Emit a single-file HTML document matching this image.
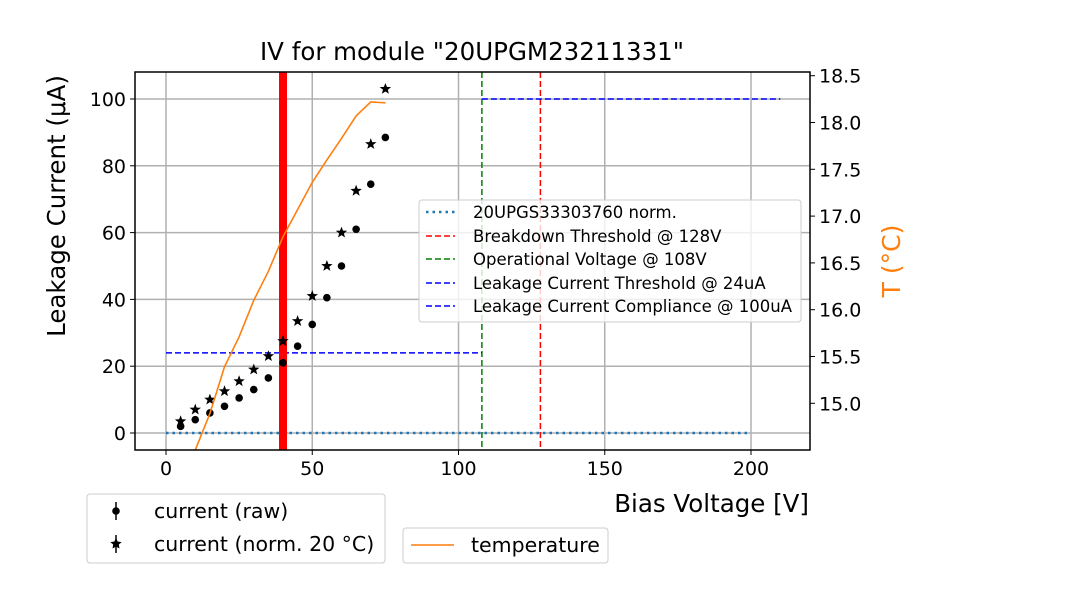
<!DOCTYPE html>
<html><head><meta charset="utf-8"><style>
body{margin:0;background:#fff}
svg text{font-family:"DejaVu Sans","Liberation Sans",sans-serif}
</style></head><body>
<svg id="chart" width="1080" height="600" viewBox="0 0 1080 600">
<rect width="1080" height="600" fill="#fff"/>
<g id="grid"></g>
<g id="plot"></g>
<g id="axes"></g>
</svg>
<script>
const volts = [5,10,15,20,25,30,35,40,45,50,55,60,65,70,75];
const rawCurrent = [2,4,6,8,10.5,13,16.5,21,26,32.5,40.5,50,61,74.5,88.5];
const normCurrent = [3.5,7,10,12.5,15.5,19,23,27.5,33.5,41,50,60,72.5,86.5,103];
const tempVolts = [5,10,15,20,25,30,35,40,45,50,55,60,65,70,75];
const temps = [14.1,14.5,14.89,15.39,15.71,16.1,16.41,16.78,17.07,17.36,17.6,17.83,18.07,18.22,18.21];
const xTicks = [0,50,100,150,200];
const yTicks = [0,20,40,60,80,100];
const tTicks = [15.0,15.5,16.0,16.5,17.0,17.5,18.0,18.5];
const breakdownV = 128, operationalV = 108, leakThr = 24, compliance = 100, markerV = 40;

const L=135,R=810,T=72,B=450;
const xs=v=>166+(v-0)*(751-166)/200;
const ys=c=>433-(c)*(433-99)/100;
const ts=t=>403.3-(t-15)*93.6;
const NS="http://www.w3.org/2000/svg";
function mk(tag,attrs,parent){const e=document.createElementNS(NS,tag);for(const k in attrs)e.setAttribute(k,attrs[k]);(parent||document.getElementById('chart')).appendChild(e);return e;}
const grid=document.getElementById('grid'),plot=document.getElementById('plot'),axes=document.getElementById('axes');

xTicks.forEach(v=>{const l=mk('line',{x1:xs(v),x2:xs(v),y1:T,y2:B,stroke:'#b0b0b0','stroke-width':1.5},grid);
});
yTicks.forEach(v=>{const l=mk('line',{x1:L,x2:R,y1:ys(v),y2:ys(v),stroke:'#b0b0b0','stroke-width':1.5},grid);
});

const defs=mk('defs',{});const cp=mk('clipPath',{id:'c'},defs);mk('rect',{x:L,y:T,width:R-L,height:B-T},cp);
plot.setAttribute('clip-path','url(#c)');

let e;
e=mk('line',{x1:xs(0),x2:xs(200),y1:ys(0),y2:ys(0),stroke:'#1f77b4','stroke-width':2.5,'stroke-dasharray':'2.5 4'},plot);

e=mk('line',{x1:xs(breakdownV),x2:xs(breakdownV),y1:T,y2:B,stroke:'red','stroke-width':1.5,'stroke-dasharray':'6 3'},plot);

e=mk('line',{x1:xs(operationalV),x2:xs(operationalV),y1:T,y2:B,stroke:'green','stroke-width':1.5,'stroke-dasharray':'6 3'},plot);

e=mk('line',{x1:xs(0),x2:xs(operationalV),y1:ys(leakThr),y2:ys(leakThr),stroke:'blue','stroke-width':1.5,'stroke-dasharray':'6 3'},plot);

e=mk('line',{x1:xs(operationalV),x2:xs(210),y1:ys(compliance),y2:ys(compliance),stroke:'blue','stroke-width':1.5,'stroke-dasharray':'6 3'},plot);

e=mk('line',{x1:xs(markerV),x2:xs(markerV),y1:T,y2:B,stroke:'red','stroke-width':8},plot);


function star(cx,cy,r){let p=[];for(let i=0;i<10;i++){const a=-Math.PI/2+i*Math.PI/5;const rr=i%2?r*0.42:r;p.push((cx+rr*Math.cos(a)).toFixed(1)+','+(cy+rr*Math.sin(a)).toFixed(1));}return p.join(' ');}
volts.forEach((v,i)=>{
 const c=mk('circle',{cx:xs(v),cy:ys(rawCurrent[i]),r:3.8,fill:'#000'},plot);
 
 const s=mk('polygon',{points:star(xs(v),ys(normCurrent[i]),6),fill:'#000'},plot);
 
});
e=mk('polyline',{points:tempVolts.map((v,i)=>xs(v)+','+ts(temps[i])).join(' '),fill:'none',stroke:'#ff7f0e','stroke-width':1.6},plot);


e=mk('rect',{x:L,y:T,width:R-L,height:B-T,fill:'none',stroke:'#000','stroke-width':1.5},axes);

xTicks.forEach(v=>{mk('line',{x1:xs(v),x2:xs(v),y1:B,y2:B+5,stroke:'#000'},axes);
 const t=mk('text',{x:xs(v),y:B+25,'font-size':19,'text-anchor':'middle'},axes);t.textContent=v;
 });
yTicks.forEach(v=>{mk('line',{x1:L-5,x2:L,y1:ys(v),y2:ys(v),stroke:'#000'},axes);
 const t=mk('text',{x:L-9,y:ys(v)+7,'font-size':19,'text-anchor':'end'},axes);t.textContent=v;
 });
tTicks.forEach(v=>{mk('line',{x1:R,x2:R+5,y1:ts(v),y2:ts(v),stroke:'#000'},axes);
 const t=mk('text',{x:R+9,y:ts(v)+7,'font-size':19},axes);t.textContent=v.toFixed(1);
 });
</script>
<svg width="1080" height="600" style="position:absolute;left:0;top:0">
<text x="472" y="60" font-size="24.5" text-anchor="middle" font-family="DejaVu Sans, sans-serif">IV for module "20UPGM23211331"</text>
<text transform="translate(65,206) rotate(-90)" font-size="24.5" text-anchor="middle" font-family="DejaVu Sans, sans-serif">Leakage Current (μA)</text>
<text transform="translate(900,261) rotate(-90)" font-size="25" fill="#ff7f0e" text-anchor="middle" font-family="DejaVu Sans, sans-serif">T (°C)</text>
<text x="809" y="512" font-size="24.5" text-anchor="end" font-family="DejaVu Sans, sans-serif">Bias Voltage [V]</text>
<g font-family="DejaVu Sans, sans-serif" font-size="16.5">
<rect x="419" y="200" width="382" height="122" rx="3" fill="#fff" fill-opacity="0.8" stroke="#ccc"/>
<line x1="426" x2="455" y1="212" y2="212" stroke="#1f77b4" stroke-width="2.5" stroke-dasharray="2.5 4"/>
<line x1="426" x2="455" y1="236" y2="236" stroke="red" stroke-width="1.5" stroke-dasharray="6 3"/>
<line x1="426" x2="455" y1="259" y2="259" stroke="green" stroke-width="1.5" stroke-dasharray="6 3"/>
<line x1="426" x2="455" y1="283" y2="283" stroke="blue" stroke-width="1.5" stroke-dasharray="6 3"/>
<line x1="426" x2="455" y1="306" y2="306" stroke="blue" stroke-width="1.5" stroke-dasharray="6 3"/>
<text x="473" y="218">20UPGS33303760 norm.</text>
<text x="473" y="242">Breakdown Threshold @ 128V</text>
<text x="473" y="265">Operational Voltage @ 108V</text>
<text x="473" y="289">Leakage Current Threshold @ 24uA</text>
<text x="473" y="312">Leakage Current Compliance @ 100uA</text>
</g>
<g font-family="DejaVu Sans, sans-serif" font-size="20.5">
<rect x="87" y="494" width="298" height="69" rx="3" fill="#fff" stroke="#ccc"/>
<line x1="116" x2="116" y1="502" y2="520" stroke="#000" stroke-width="1.5"/><circle cx="116" cy="511" r="3.8"/>
<line x1="116" x2="116" y1="535" y2="553" stroke="#000" stroke-width="1.5"/>
<polygon points="116,538 117.7,541.5 121.7,542.1 118.8,544.5 119.5,548.5 116,546.6 112.5,548.5 113.2,544.5 110.3,542.1 114.3,541.5"/>
<text x="154" y="518">current (raw)</text>
<text x="154" y="551">current (norm. 20 °C)</text>
</g>
<g font-family="DejaVu Sans, sans-serif" font-size="20.5">
<rect x="403" y="528" width="205" height="35" rx="3" fill="#fff" stroke="#ccc"/>
<line x1="411" x2="454" y1="545" y2="545" stroke="#ff7f0e" stroke-width="1.6"/>
<text x="471" y="552">temperature</text>
</g>
</svg>
</body></html>
